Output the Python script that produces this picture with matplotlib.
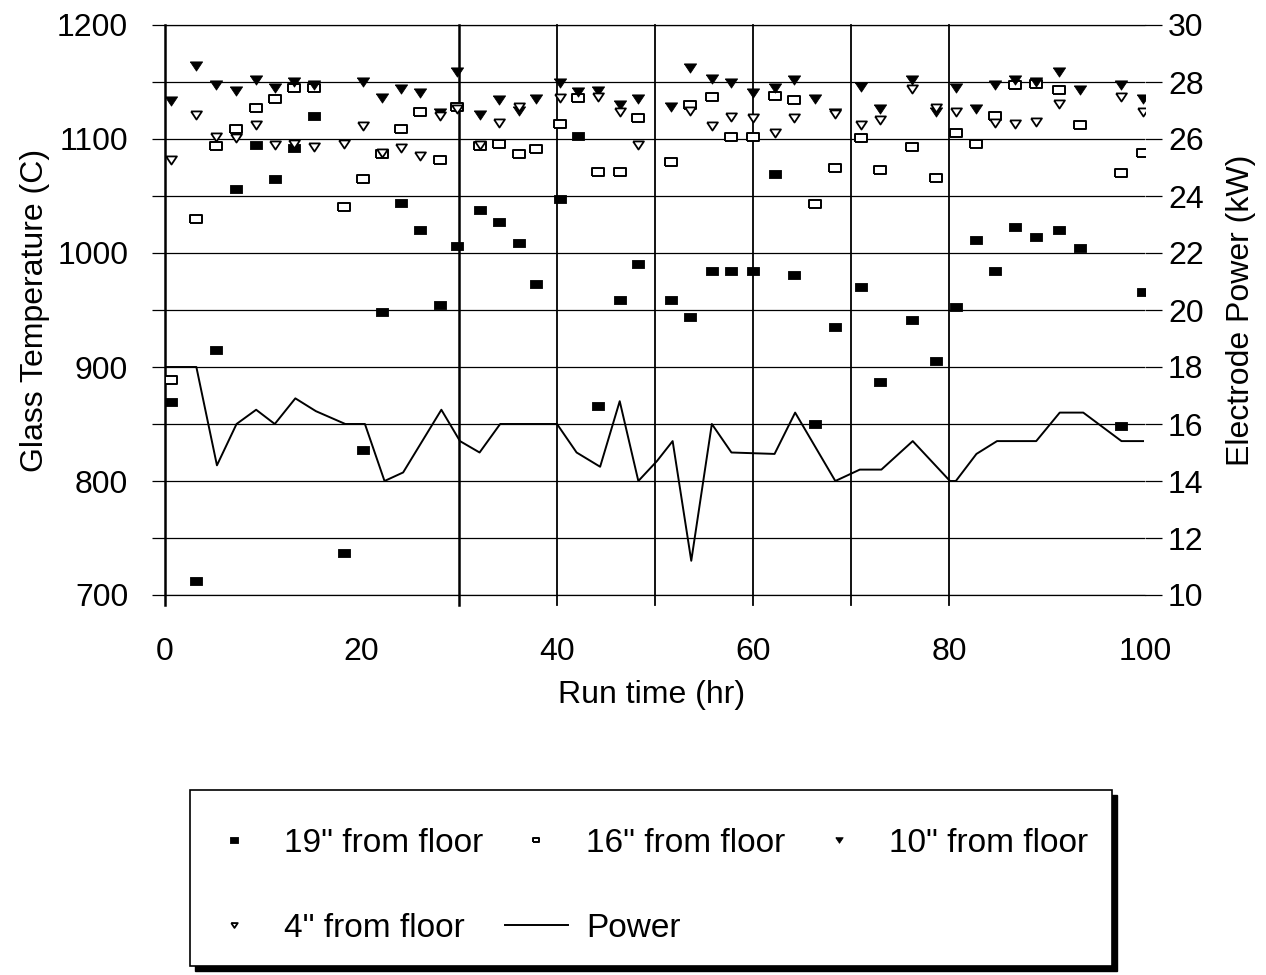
import matplotlib
matplotlib.use('Agg')
import matplotlib.pyplot as plt
import numpy as np
from matplotlib.patches import Rectangle

plt.rcParams['font.family'] = ['Liberation Sans', 'DejaVu Sans']

nan = np.nan

# sample times (hr) for the thermocouple readings
hours = [0.6, 3.2, 5.2, 7.2, 9.3, 11.2, 13.2, 15.2, 18.3, 20.2,
         22.1, 24.1, 26.0, 28.1, 29.8, 32.1, 34.1, 36.1, 37.9, 40.3,
         42.1, 44.2, 46.4, 48.3, 51.6, 53.6, 55.8, 57.8, 60.0, 62.2,
         64.2, 66.3, 68.4, 71.0, 73.0, 76.2, 78.7, 80.7, 82.8, 84.7,
         86.7, 88.9, 91.2, 93.4, 97.6, 99.8]

# glass temperature (C) at each height above the floor
temp_19 = [869, 712, 915, 1056, 1095, 1065, 1092, 1120, 737, 827,
           948, 1044, 1020, 954, 1006, 1038, 1027, 1009, 973, 1047,
           1103, 866, 959, 990, 959, 944, 984, 984, 984, 1069,
           981, 850, 935, 970, 887, 941, 905, 953, 1011, 984,
           1023, 1014, 1020, 1004, 848, 966]
temp_16 = [889, 1030, 1094, 1109, 1127, 1135, 1145, 1145, 1040, 1065,
           1087, 1109, 1124, 1082, 1128, 1094, 1096, 1087, 1091, 1113,
           1136, 1071, 1071, 1118, 1080, 1130, 1137, 1102, 1102, 1138,
           1134, 1043, 1075, 1101, 1073, 1093, 1066, 1105, 1096, 1120,
           1147, 1148, 1143, 1112, 1070, 1088]
temp_10 = [1133, 1164, 1147, 1142, 1152, 1145, 1150, 1147, nan, 1150,
           1136, 1144, 1140, 1123, 1159, 1121, 1134, 1125, 1135, 1149,
           1141, 1142, 1130, 1135, 1128, 1162, 1153, 1149, 1140, 1145,
           1152, 1135, 1123, 1146, 1126, 1152, 1124, 1145, 1126, 1147,
           1152, 1150, 1159, 1143, 1147, 1135]
temp_4 = [1082, 1121, 1102, 1101, 1112, 1095, 1096, 1093, 1096, 1111,
          1088, 1092, 1085, 1120, 1126, 1095, 1114, 1128, nan, 1136,
          nan, 1137, 1124, 1095, nan, 1125, 1111, 1119, 1118, 1105,
          1118, nan, 1122, 1112, 1117, 1144, 1127, 1124, nan, 1114,
          1113, 1115, 1131, nan, 1137, 1124]

# electrode power trace
power_hours = [0.1, 3.2, 5.3, 7.3, 9.3, 11.2, 13.3, 15.4, 18.4, 20.4,
               22.4, 24.3, 28.2, 30.1, 32.1, 34.2, 40.0, 42.0, 44.4, 46.4,
               48.3, 50.2, 51.8, 53.7, 55.8, 57.8, 62.2, 64.3, 68.4, 70.9,
               73.1, 76.3, 80.1, 80.7, 82.8, 84.9, 88.9, 91.3, 93.7, 97.6,
               99.8]
power_kw = [18.0, 18.0, 14.55, 16.0, 16.5, 16.0, 16.9, 16.45, 16.0, 16.0,
            14.0, 14.3, 16.5, 15.4, 15.0, 16.0, 16.0, 15.0, 14.5, 16.8,
            14.0, 14.7, 15.4, 11.2, 16.0, 15.0, 14.95, 16.4, 14.0, 14.4,
            14.4, 15.4, 14.0, 14.0, 14.95, 15.4, 15.4, 16.4, 16.4, 15.4,
            15.4]

labels = ['19" from floor', '16" from floor', '10" from floor',
          '4" from floor', 'Power']

# slightly flattened marker shapes
box = [(-1, -0.7), (1, -0.7), (1, 0.7), (-1, 0.7), (-1, -0.7)]
tri_down = [(-1, 0.75), (1, 0.75), (0, -0.75), (-1, 0.75)]

W, H = 1266, 975
fig = plt.figure(figsize=(W / 100, H / 100), dpi=100)
ax = fig.add_axes([165 / W, 1 - 595 / H, 980 / W, 570 / H])
ax2 = ax.twinx()

h19, = ax.plot(hours, temp_19, ls='none', marker=box, ms=8.8,
               mfc='black', mec='black', mew=0.6, zorder=4)
h16, = ax.plot(hours, temp_16, ls='none', marker=box, ms=8.2,
               mfc='white', mec='black', mew=1.4, zorder=4)
h10, = ax.plot(hours, temp_10, ls='none', marker=tri_down, ms=8.8,
               mfc='black', mec='black', mew=0.6, zorder=4)
h4, = ax.plot(hours, temp_4, ls='none', marker=tri_down, ms=7.8,
              mfc='white', mec='black', mew=1.3, zorder=4)
hp, = ax2.plot(power_hours, power_kw, color='black', lw=1.4)

ax.set_xlim(0, 100)
ax.set_ylim(700, 1200)
ax2.set_ylim(10, 30)

ax.set_yticks(np.arange(700, 1201, 100))
ax.set_yticks(np.arange(750, 1200, 100), minor=True)
ax.grid(axis='y', which='both', color='black', lw=0.9)
ax.tick_params(axis='y', which='both', direction='out', length=9.5,
               width=0.9, pad=17, labelsize=23)

ax2.set_yticks(np.arange(10, 31, 2))
ax2.tick_params(axis='y', direction='out', length=12, width=0.9,
                pad=4.5, labelsize=23)

ax.set_xticks(np.arange(0, 101, 20))
ax.tick_params(axis='x', length=0, pad=30, labelsize=23)

for side in ['left', 'right']:
    ax.spines[side].set_visible(False)
for side in ['left', 'right', 'top', 'bottom']:
    ax2.spines[side].set_visible(False)
ax.spines['top'].set_linewidth(0.9)
ax.spines['bottom'].set_linewidth(0.9)

# vertical run-time lines
for xv, lw in [(0, 1.8), (30, 1.8), (40, 1.3), (50, 1.3), (60, 1.3),
               (70, 1.3), (80, 1.3)]:
    ax.axvline(xv, ymin=-0.018, ymax=1, color='black', lw=lw,
               clip_on=False, zorder=3)

ax.set_ylabel('Glass Temperature (C)', fontsize=23)
ax.yaxis.set_label_coords(-0.117, 0.5)
ax2.set_ylabel('Electrode Power (kW)', fontsize=23)
ax2.yaxis.set_label_coords(1.083, 0.5)
ax.set_xlabel('Run time (hr)', fontsize=23)
ax.xaxis.set_label_coords(0.496, -0.15)

# legend frame with a solid drop shadow
x0, y0, x1, y1 = 190, 790, 1112, 966
fig.add_artist(Rectangle((x0 / W + 5 / W, 1 - y1 / H - 5 / H),
                         (x1 - x0) / W, (y1 - y0) / H,
                         transform=fig.transFigure, facecolor='black',
                         edgecolor='black', lw=1))
fig.add_artist(Rectangle((x0 / W, 1 - y1 / H), (x1 - x0) / W, (y1 - y0) / H,
                         transform=fig.transFigure, facecolor='white',
                         edgecolor='black', lw=1.2))

# legend is filled column by column, so interleave to get row order
handles = [h19, h4, h16, hp, h10]
order = [labels[0], labels[3], labels[1], labels[4], labels[2]]
fig.legend(handles, order, ncol=3, frameon=False, loc='upper left',
           bbox_to_anchor=(202 / W, 1 - 828 / H), borderaxespad=0,
           borderpad=0, fontsize=24, handlelength=1.9, handletextpad=0.55,
           columnspacing=0.65, labelspacing=1.62, markerscale=0.6)

fig.savefig('out.png', dpi=100)
